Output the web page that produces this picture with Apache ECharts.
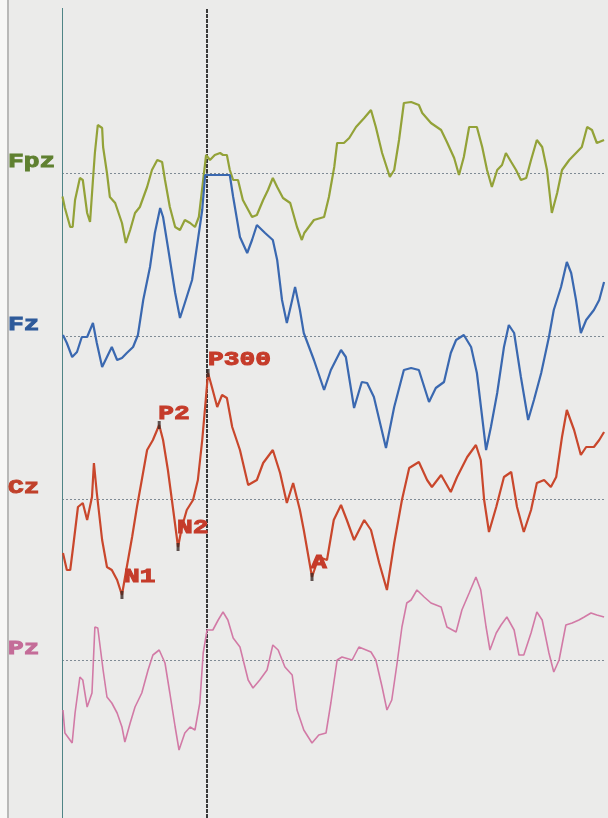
<!DOCTYPE html>
<html>
<head>
<meta charset="utf-8">
<script src="https://cdn.jsdelivr.net/npm/echarts@6/dist/echarts.min.js"></script>
<style>
  html, body { margin: 0; padding: 0; background: #ebebea; }
  #chart { width: 608px; height: 818px; }
</style>
</head>
<body>
<div id="chart"></div>
<script>
// Event-related potentials per electrode: [time in ms after onset, amplitude in µV]
const fpz = [[1,-5.9],[6,-8.75],[17,-13.5],[22,-13.5],[27,-6.75],[37,-1.25],[43,-1.75],[52,-10],[58,-12.25],[64,-1.75],[68,5],[74,12],[83,11.25],[85,6.5],[93,0],[99,-6],[110,-7.5],[124,-12.5],[132,-17.5],[141,-14.25],[151,-10],[161,-8.5],[176,-3.5],[186,0.75],[197,3.25],[207,2.75],[213,-1.75],[223,-8.5],[234,-13.5],[244,-14.25],[254,-11.75],[265,-12.5],[275,-13.5],[283,-11],[292,-1.75],[298,4.5],[306,3.25],[316,4.5],[327,5],[333,4.5],[341,4.5],[347,0.75],[354,-1.75],[364,-1.75],[374,-6.75],[393,-11],[403,-10.5],[416,-6.75],[426,-4.25],[436,-1.25],[445,-3.5],[457,-6.25],[472,-7.5],[486,-13.5],[496,-16.75],[501,-15],[521,-11.75],[542,-11],[552,-6],[563,1.5],[569,7.5],[583,7.5],[594,8.75],[608,11.5],[625,13.75],[639,15.75],[649,11.5],[662,5],[678,-1],[687,0.75],[697,8.25],[707,17.5],[722,17.75],[738,17],[745,15],[763,12.5],[784,10.75],[796,7.75],[811,3.75],[821,-0.5],[831,4],[842,11.5],[858,11.5],[869,6.5],[879,0.75],[889,-3.5],[900,0.75],[910,2],[918,5],[929,2.75],[939,0.75],[949,-1.75],[960,-1.25],[970,3.25],[982,8.25],[993,6.5],[1003,0.75],[1013,-10],[1024,-5],[1034,0.75],[1049,3.25],[1065,5.25],[1075,6.5],[1086,11.5],[1096,10.75],[1106,7.5],[1121,8.25]];

const fz = [[2,0.25],[10,-1.75],[21,-5.25],[31,-4],[41,-0.25],[52,-0.25],[64,3.25],[72,-1.75],[83,-7.75],[93,-5.25],[103,-2.75],[114,-6],[124,-5.5],[134,-4.25],[147,-2.75],[157,0.25],[168,9],[182,17.25],[192,25.75],[203,32],[209,29.75],[219,22.25],[234,10.75],[244,4.5],[254,8.25],[269,14],[281,24],[290,31.5],[296,40.25],[347,40.25],[354,34.75],[368,24.75],[383,20.75],[393,24],[403,27.75],[420,25.75],[436,24],[445,19],[455,9],[465,3.25],[476,9],[482,12.25],[492,6.5],[500,0.75],[521,-6],[542,-13.5],[556,-8.5],[577,-3.5],[587,-5.25],[604,-18],[620,-11.5],[631,-11.75],[645,-15.25],[670,-28],[687,-17.75],[707,-8.5],[722,-8],[738,-8.5],[759,-16.5],[773,-13],[790,-11.5],[804,-4.25],[815,-1],[831,0.25],[846,-2.75],[858,-9.25],[877,-28.5],[887,-22.75],[900,-14.25],[914,-2.75],[924,2.75],[935,0.75],[949,-10.25],[964,-21],[976,-16],[991,-9.25],[1007,-0.25],[1017,6.5],[1032,12.25],[1044,18.5],[1053,15.75],[1063,9],[1073,0.75],[1084,4],[1100,6.5],[1111,9],[1121,13.5]];

const cz = [[2,-13.5],[10,-17.75],[17,-17.75],[23,-12],[33,-2],[43,-1],[52,-5.25],[62,0.5],[66,9],[70,9],[72,1.5],[83,-10.25],[93,-17],[103,-17.75],[114,-20.25],[124,-24],[134,-17],[145,-9.5],[155,-2],[165,4.75],[176,12.25],[188,14.75],[201,18.5],[209,14.75],[219,7.25],[230,-2.75],[240,-12],[248,-7],[258,-2.75],[271,-0.25],[281,4.75],[290,14.75],[296,23],[302,31.5],[310,28],[321,23],[331,26],[341,25.25],[352,18],[368,12.25],[385,3.5],[403,4.75],[416,9],[436,12.25],[451,6.5],[465,-1],[478,4],[492,-2.75],[500,-7.75],[517,-19.5],[531,-14.5],[548,-15.25],[562,-5.25],[577,-1.5],[589,-5.25],[604,-10.25],[625,-5.25],[639,-7.75],[656,-16],[672,-22.75],[687,-11],[703,-0.25],[718,7.75],[738,9.25],[755,4.75],[765,3],[784,6],[804,1.75],[817,5.5],[838,10.5],[856,13.5],[866,9.75],[873,-0.25],[883,-8.25],[898,-2],[914,5.5],[929,6.75],[941,-2],[955,-8.25],[970,-2.75],[982,4],[997,4.75],[1011,3],[1022,5.5],[1034,15.5],[1044,22.25],[1059,17.25],[1073,11],[1084,13],[1100,13],[1111,14.75],[1121,16.75]];

const pz = [[2,-12.5],[6,-18.25],[21,-20.75],[27,-13.25],[37,-4.25],[43,-5],[52,-11.75],[62,-8.25],[68,8.25],[74,8],[85,-2.5],[93,-9.25],[103,-10.75],[114,-13.25],[124,-16.75],[130,-20.5],[141,-15.75],[151,-11.75],[165,-8.25],[178,-2.5],[188,1.25],[201,2.5],[213,-0.75],[223,-8.25],[234,-16.75],[242,-22.5],[254,-18.25],[265,-16.75],[275,-17.5],[285,-10.75],[292,1.75],[300,7.5],[312,7.5],[323,10],[333,12],[343,10],[354,5.5],[368,3.25],[385,-5],[395,-7],[409,-5],[424,-2.5],[436,3.75],[447,2.5],[461,-1.75],[476,-3.75],[486,-12.5],[498,-16.75],[500,-17.5],[517,-20.75],[531,-18.75],[546,-18.25],[556,-10.75],[569,0],[579,0.75],[600,0],[614,3.25],[639,2],[649,0],[662,-6.75],[672,-12.5],[682,-10],[693,-0.75],[703,8.25],[713,14.25],[722,15],[734,17.5],[749,15.75],[763,14.25],[784,13.25],[796,8.25],[815,7],[827,12.5],[842,16.75],[856,20.75],[866,17.5],[877,8.25],[885,2.5],[898,6.75],[908,8.75],[920,10.75],[935,7.5],[945,1.25],[955,1.25],[970,6.75],[982,12],[993,10],[1007,1.75],[1017,-3],[1028,0],[1042,8.75],[1055,9.25],[1069,10],[1080,10.75],[1094,11.75],[1106,11.25],[1121,10.75]];

const channelNames = ['Fpz', 'Fz', 'Cz', 'Pz'];
const channelData = [fpz, fz, cz, pz];

// Components marked on the Cz trace
const peakNames = ['N1', 'P2', 'N2', 'P300', 'A'];
const peakTimes = [124, 201, 240, 302, 517];

// Time cursors: recording start and stimulus reference
const cursorTimes = [0, 300];

// ---- display settings ----
const GAIN = 4;                               // axis units per µV
const traceOffsets = [-173, -336, -499, -660]; // vertical position of each trace's zero line
const traceColors = ['#93a238', '#3a68b0', '#c9472c', '#d27aa6'];
const labelColors = ['#5f8030', '#2e5a9a', '#c0402a', '#c46c98'];
const traceWidths = [2.2, 2.2, 2.2, 1.6];
const peakLabelShift = [[2, -18], [-1, -11], [-1, -19], [0, -13], [-1, -14]];
const labelFont = 'bold 21px "Liberation Mono", "DejaVu Sans Mono", monospace';

const chart = echarts.init(document.getElementById('chart'), null, { renderer: 'canvas' });

const series = channelData.map((pts, i) => ({
  name: channelNames[i],
  type: 'line',
  data: pts.map(p => [p[0], traceOffsets[i] + p[1] * GAIN]),
  showSymbol: false,
  symbol: 'none',
  smooth: false,
  z: 3,
  lineStyle: { color: traceColors[i], width: traceWidths[i] },
  markLine: {
    silent: true,
    symbol: 'none',
    label: { show: false },
    lineStyle: { color: '#7f8b95', type: [2, 2], width: 1 },
    data: [{ yAxis: traceOffsets[i] }],
    z: 1
  }
}));

// Cursor lines
series.push({
  type: 'line',
  data: [],
  markLine: {
    silent: true,
    symbol: 'none',
    label: { show: false },
    data: [
      { xAxis: cursorTimes[0], lineStyle: { color: '#4f8486', width: 1, type: 'solid' } },
      { xAxis: cursorTimes[1], lineStyle: { color: '#3a3a3a', width: 2, type: [4, 1] } }
    ],
    z: 2
  }
});

// Component markers on Cz
const czIdx = channelNames.indexOf('Cz');
const peakPoints = peakTimes.map(t => {
  const p = cz.find(d => d[0] === t);
  return [t, traceOffsets[czIdx] + p[1] * GAIN];
});
series.push({
  type: 'scatter',
  data: peakPoints,
  symbol: 'rect',
  symbolSize: [3, 8],
  itemStyle: { color: '#3b2a28' },
  z: 4,
  silent: true
});

chart.setOption({
  animation: false,
  backgroundColor: '#ebebea',
  grid: { left: 62, right: 2, top: 8, bottom: 0 },
  xAxis: { type: 'value', min: 0, max: 1125, show: false },
  yAxis: { type: 'value', min: -818, max: -8, show: false },
  series: series
});

// Text labels placed through the chart's own coordinate conversion
const graphics = [
  { type: 'rect', shape: { x: 0, y: 0, width: 7, height: 818 }, style: { fill: '#f7f7f6' }, silent: true },
  { type: 'rect', shape: { x: 7, y: 0, width: 2, height: 818 }, style: { fill: '#b9b9b8' }, silent: true }
];

function labelText(text, x, y, color) {
  return {
    type: 'text',
    x: x,
    y: y,
    scaleX: 1.25,
    silent: true,
    z: 10,
    style: {
      text: text, font: labelFont, fill: color,
      stroke: color, lineWidth: 1,
      textAlign: 'left', textVerticalAlign: 'middle'
    }
  };
}

channelNames.forEach((name, i) => {
  const py = chart.convertToPixel({ gridIndex: 0 }, [0, traceOffsets[i]])[1];
  graphics.push(labelText(name, 8, py - 11, labelColors[i]));
});

peakPoints.forEach((pt, i) => {
  const px = chart.convertToPixel({ gridIndex: 0 }, pt);
  graphics.push(labelText(peakNames[i], px[0] + peakLabelShift[i][0], px[1] + peakLabelShift[i][1], '#c53b2a'));
});

chart.setOption({ graphic: graphics });
</script>
</body>
</html>
